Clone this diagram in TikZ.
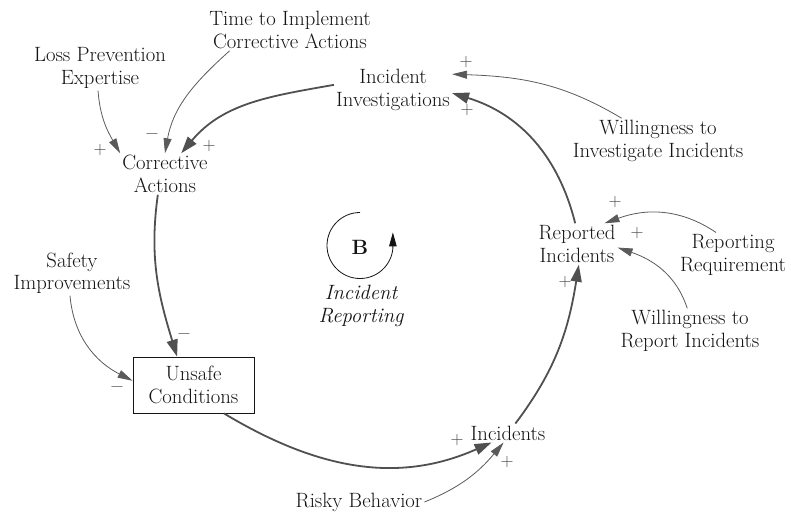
\documentclass[tikz,border=0pt]{standalone}
\usepackage{fontspec}
\usetikzlibrary{arrows.meta}
\definecolor{txt}{HTML}{141414}
\definecolor{lnk}{HTML}{505050}
\definecolor{thin}{HTML}{5A5A5A}
\definecolor{sgncol}{HTML}{444444}
\begin{document}
\begin{tikzpicture}[x=1pt,y=1pt,
  var/.style={align=center, inner sep=2pt, text=txt, font=\fontsize{20.7}{22.5}\selectfont},
  mainlink/.style={draw=lnk, line width=1.8pt, -{Triangle[length=17pt,width=11pt]}},
  auxlink/.style={draw=thin, line width=0.8pt, -{Triangle[length=15pt,width=8pt]}},
  polarity/.style={text=sgncol, font=\fontsize{18}{18}\selectfont, inner sep=0pt}]
\useasboundingbox (0,0) rectangle (791,-514);

% variables
\node[var] (ti)  at (290,-30)  {Time to Implement\\Corrective Actions};
\node[var] (lp)  at (100,-68)  {Loss Prevention\\Expertise};
\node[var] (ii)  at (393,-90)  {Incident\\Investigations};
\node[var] (ca)  at (165,-174) {Corrective\\Actions};
\node[var] (wi)  at (658,-141) {Willingness to\\Investigate Incidents};
\node[var] (ri)  at (577,-244) {Reported\\Incidents};
\node[var] (rr)  at (733,-255) {Reporting\\Requirement};
\node[var] (wr)  at (690,-331) {Willingness to\\Report Incidents};
\node[var] (si)  at (72,-273)  {Safety\\Improvements};
\node[var, draw=txt, line width=0.8pt, minimum width=121pt, minimum height=56pt] (uc) at (193.5,-385) {Unsafe\\Conditions};
\node[var] (inc) at (508,-433) {Incidents};
\node[var] (rb)  at (359,-502) {Risky Behavior};

% balancing loop marker
\draw[line width=0.8pt, draw=txt, -{Triangle[length=14pt,width=7.5pt]}]
  (360,-212.5) arc[start angle=90, end angle=355, radius=33] -- ++(0,16);
\node[var, font=\fontsize{20.7}{22.5}\selectfont\bfseries] (bl) at (360,-247) {B};
\node[var, font=\fontsize{20.7}{22.5}\selectfont\itshape] (ir) at (361,-306) {Incident\\Reporting};

% main loop
\draw[mainlink] (ii.175) to[out=190,in=50] (ca.52);
\draw[mainlink] (ca.-109) to[out=-98,in=107] (uc.120);
\draw[mainlink] (uc.-43) to[out=-31,in=-156] (inc.-150);
\draw[mainlink] (inc.52) to[out=53,in=-99] (ri.-85);
\draw[mainlink] (ri.95) to[out=104,in=-17] (ii.-3);

% external influences
\draw[auxlink] (lp.-95) to[out=-86,in=120] (ca.north west);
\draw[auxlink] (ti.-161) to[out=-138,in=80] (ca.north);
\draw[auxlink] (wi.148) to[out=149,in=-2] (ii.15);
\draw[auxlink] (rr.127) to[out=146,in=20] (ri.37);
\draw[auxlink] (wr.97) to[out=108,in=-19] (ri.-5);
\draw[auxlink] (si.-95) to[out=-85,in=153] (uc.176);
\draw[auxlink] (rb.east) to[out=22,in=-130] (inc.-115);

% link polarities
\node[polarity] (p1)  at (100,-150) {+};
\node[polarity] (p2)  at (152,-136) {−};
\node[polarity] (p3)  at (209,-146) {+};
\node[polarity] (p4)  at (466,-62)  {+};
\node[polarity] (p5)  at (467,-110) {+};
\node[polarity] (p6)  at (615,-202) {+};
\node[polarity] (p7)  at (637,-233) {+};
\node[polarity] (p8)  at (565,-282) {+};
\node[polarity] (p9)  at (184,-336) {−};
\node[polarity] (p10) at (117,-389) {−};
\node[polarity] (p11) at (457,-440) {+};
\node[polarity] (p12) at (507,-462) {+};
\end{tikzpicture}
\end{document}
